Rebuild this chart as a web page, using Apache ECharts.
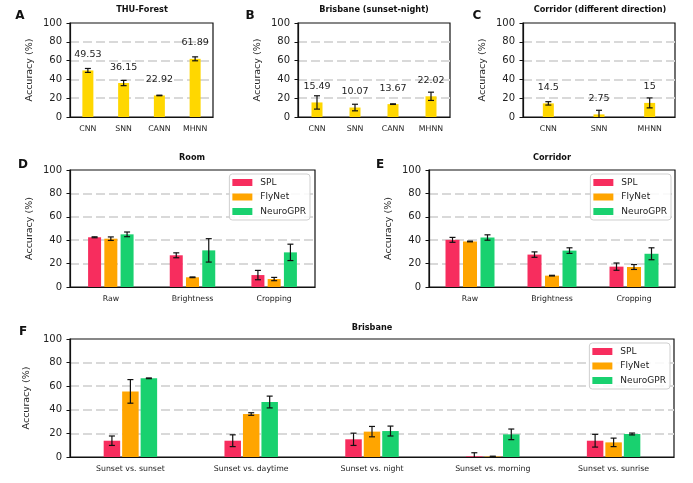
<!DOCTYPE html>
<html>
<head>
<meta charset="utf-8">
<script src="https://cdn.jsdelivr.net/npm/echarts@6/dist/echarts.min.js"></script>
<style>html,body{margin:0;padding:0;background:#fff;}#c{width:693px;height:483px;}</style>
</head>
<body>
<div id="c"></div>
<script>
// ---------- data ----------
const catsA = ['CNN', 'SNN', 'CANN', 'MHNN'];
const valsA = [49.53, 36.15, 22.92, 61.89];
const errA = [2.1, 2.8, 0.3, 2.1];

const catsB = ['CNN', 'SNN', 'CANN', 'MHNN'];
const valsB = [15.49, 10.07, 13.67, 22.02];
const errB = [7.1, 3.5, 0.3, 4.4];

const catsC = ['CNN', 'SNN', 'MHNN'];
const valsC = [14.5, 2.75, 15];
const errC = [1.8, 4.4, 5.3];

const methods = ['SPL', 'FlyNet', 'NeuroGPR'];

const catsRoom = ['Raw', 'Brightness', 'Cropping'];
const roomSPL = [42.5, 27.1, 10.2];
const roomSPLErr = [0.4, 2.1, 4.0];
const roomFly = [41.3, 8.3, 6.8];
const roomFlyErr = [1.5, 0.3, 1.4];
const roomNeuro = [45.0, 31.3, 29.6];
const roomNeuroErr = [2.0, 10.0, 7.0];

const catsCorr = ['Raw', 'Brightness', 'Cropping'];
const corrSPL = [40.3, 27.7, 17.4];
const corrSPLErr = [2.1, 2.3, 3.1];
const corrFly = [38.9, 9.7, 17.1];
const corrFlyErr = [0.3, 0.3, 2.1];
const corrNeuro = [42.3, 31.1, 28.4];
const corrNeuroErr = [2.3, 2.4, 5.1];

const catsBris = ['Sunset vs. sunset', 'Sunset vs. daytime', 'Sunset vs. night', 'Sunset vs. morning', 'Sunset vs. sunrise'];
const brisSPL = [13.8, 13.8, 15.0, 0.6, 13.8];
const brisSPLErr = [4.0, 5.0, 5.2, 3.0, 5.4];
const brisFly = [55.6, 36.4, 21.5, 0.4, 12.4];
const brisFlyErr = [10.0, 1.1, 4.4, 0.3, 3.6];
const brisNeuro = [66.7, 46.6, 22.0, 19.2, 19.5];
const brisNeuroErr = [0.3, 5.0, 4.2, 4.5, 0.8];

const yTicks = [0, 20, 40, 60, 80, 100];

// ---------- styles ----------
const FONT = 'DejaVu Sans';
const YELLOW = '#FFD700';
const COLORS = { SPL: '#F72D5E', FlyNet: '#FFA500', NeuroGPR: '#19D16F' };

const grids = [
  { left: 70, top: 23, width: 143, height: 94 },   // A
  { left: 298, top: 23, width: 152, height: 94 },  // B
  { left: 523, top: 23, width: 152, height: 94 },  // C
  { left: 70, top: 170, width: 245, height: 117 }, // D
  { left: 429, top: 170, width: 246, height: 117 },// E
  { left: 70, top: 339, width: 604, height: 118 }  // F
].map(g => Object.assign(g, { show: true, borderColor: '#111', borderWidth: 1.2, backgroundColor: 'transparent', containLabel: false }));

function xAxisFor(idx, cats) {
  return {
    type: 'category', gridIndex: idx, data: cats,
    axisLine: { lineStyle: { color: '#111', width: 1.2 } },
    axisTick: { alignWithLabel: true, length: 3.5, lineStyle: { color: '#111', width: 1 } },
    axisLabel: { fontFamily: FONT, fontSize: 7.8, color: '#222', margin: 8, interval: 0 },
    splitLine: { show: false }
  };
}
function yAxisFor(idx) {
  return {
    type: 'value', gridIndex: idx, min: yTicks[0], max: yTicks[yTicks.length - 1], interval: 20,
    name: 'Accuracy (%)', nameLocation: 'middle', nameGap: 35,
    nameTextStyle: { fontFamily: FONT, fontSize: 9.5, color: '#222' },
    axisLine: { show: true, lineStyle: { color: '#111', width: 1.2 } },
    axisTick: { show: true, length: 3.5, lineStyle: { color: '#111', width: 1 } },
    axisLabel: { fontFamily: FONT, fontSize: 10, color: '#222', margin: 8 },
    splitLine: { show: true, showMinLine: false, showMaxLine: false, lineStyle: { color: '#d9d9d9', width: 1.8, type: [9, 4] } }
  };
}

function barSeries(idx, name, vals, color, barWidth, barGap) {
  return {
    type: 'bar', name: name, xAxisIndex: idx, yAxisIndex: idx, data: vals,
    barWidth: barWidth, barGap: barGap, itemStyle: { color: color }, z: 2, silent: true
  };
}

function errSeries(idx, vals, errs, offset, labels) {
  return {
    type: 'custom', xAxisIndex: idx, yAxisIndex: idx, z: 5, silent: true,
    data: vals.map((v, i) => [i, v, errs[i]]),
    renderItem: function (params, api) {
      const i = api.value(0), v = api.value(1), e = api.value(2);
      const top = api.coord([i, v + e]);
      const low = v - e;
      const bot = api.coord([i, Math.max(low, 0)]);
      const x = top[0] + offset;
      const st = { stroke: '#111', lineWidth: 1.2 };
      const children = [
        { type: 'line', shape: { x1: x, y1: top[1], x2: x, y2: bot[1] }, style: st },
        { type: 'line', shape: { x1: x - 3, y1: top[1], x2: x + 3, y2: top[1] }, style: st }
      ];
      if (low >= 0) {
        children.push({ type: 'line', shape: { x1: x - 3, y1: bot[1], x2: x + 3, y2: bot[1] }, style: st });
      }
      if (labels) {
        const p = api.coord([i, v + 17]);
        children.push({
          type: 'text', x: p[0] + offset, y: p[1],
          style: { text: labels[params.dataIndex], font: '9.5px "' + FONT + '"', fill: '#222',
                   align: 'center', verticalAlign: 'middle', textAlign: 'center', textVerticalAlign: 'middle' }
        });
      }
      return { type: 'group', children: children };
    }
  };
}

const series = [];
// A, B, C
[[valsA, errA], [valsB, errB], [valsC, errC]].forEach((d, k) => {
  series.push(barSeries(k, 'acc' + k, d[0], YELLOW, 11, '0%'));
  series.push(errSeries(k, d[0], d[1], 0, d[0].map(v => String(v))));
});
// D, E, F grouped
const groups = [
  { idx: 3, w: 13, gap: '25%', sets: [[roomSPL, roomSPLErr], [roomFly, roomFlyErr], [roomNeuro, roomNeuroErr]] },
  { idx: 4, w: 14, gap: '25%', sets: [[corrSPL, corrSPLErr], [corrFly, corrFlyErr], [corrNeuro, corrNeuroErr]] },
  { idx: 5, w: 16.5, gap: '12%', sets: [[brisSPL, brisSPLErr], [brisFly, brisFlyErr], [brisNeuro, brisNeuroErr]] }
];
groups.forEach(g => {
  const step = g.w * (1 + parseFloat(g.gap) / 100);
  g.sets.forEach((s, m) => {
    series.push(barSeries(g.idx, methods[m], s[0], COLORS[methods[m]], g.w, g.gap));
  });
  g.sets.forEach((s, m) => {
    series.push(errSeries(g.idx, s[0], s[1], (m - 1) * step, null));
  });
});

function legendAt(right, top) {
  return {
    data: methods, orient: 'vertical', right: right, top: top,
    icon: 'rect', itemWidth: 20, itemHeight: 7, itemGap: 5.5,
    padding: [4, 4, 4, 3], borderColor: '#cfcfcf', borderWidth: 1, borderRadius: 3,
    backgroundColor: 'rgba(255,255,255,0.85)',
    textStyle: { fontFamily: FONT, fontSize: 9, color: '#222', padding: [0, 0, 0, 3] },
    selectedMode: false
  };
}

function txt(x, y, text, size, bold) {
  return {
    type: 'text', x: x, y: y, silent: true,
    style: { text: text, font: (bold ? 'bold ' : '') + size + 'px "' + FONT + '"', fill: '#111',
             align: 'center', verticalAlign: 'middle', textAlign: 'center', textVerticalAlign: 'middle' }
  };
}

const option = {
  backgroundColor: '#fff',
  animation: false,
  grid: grids,
  xAxis: [xAxisFor(0, catsA), xAxisFor(1, catsB), xAxisFor(2, catsC), xAxisFor(3, catsRoom), xAxisFor(4, catsCorr), xAxisFor(5, catsBris)],
  yAxis: [0, 1, 2, 3, 4, 5].map(yAxisFor),
  legend: [legendAt(383, 174), legendAt(22, 174), legendAt(23, 343)],
  series: series,
  graphic: [
    txt(142, 10, 'THU-Forest', 8.2, true),
    txt(374, 10, 'Brisbane (sunset-night)', 8.2, true),
    txt(600, 10, 'Corridor (different direction)', 8.2, true),
    txt(192, 158, 'Room', 8.2, true),
    txt(552, 158, 'Corridor', 8.2, true),
    txt(372, 328, 'Brisbane', 8.2, true),
    txt(20, 16, 'A', 12, true),
    txt(250, 16, 'B', 12, true),
    txt(477, 16, 'C', 12, true),
    txt(23, 165, 'D', 12, true),
    txt(380, 165, 'E', 12, true),
    txt(23, 332, 'F', 12, true)
  ]
};

const chart = echarts.init(document.getElementById('c'), null, { renderer: 'canvas' });
chart.setOption(option);
</script>
</body>
</html>
